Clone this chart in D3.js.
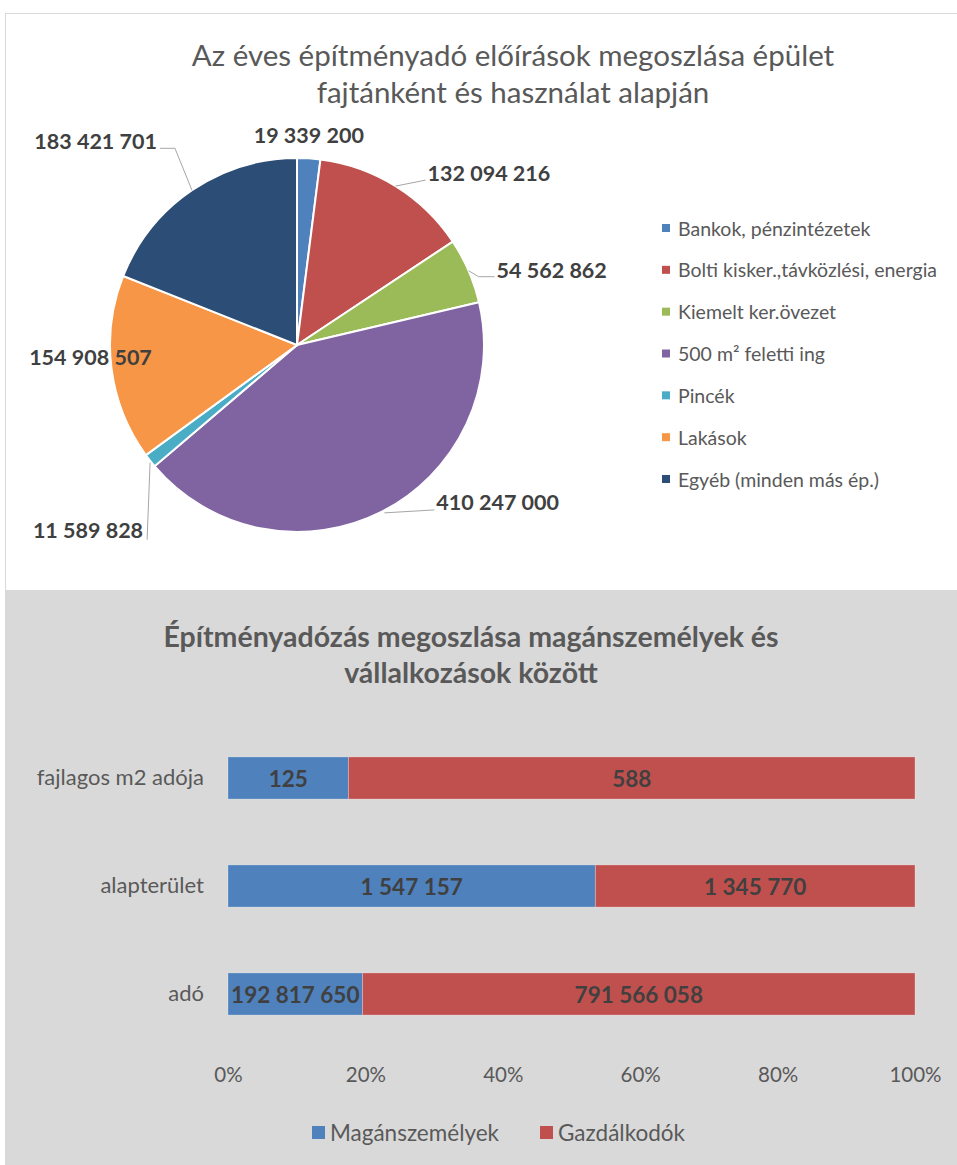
<!DOCTYPE html>
<html>
<head>
<meta charset="utf-8">
<script src="https://cdn.jsdelivr.net/npm/d3@7"></script>
<style>
  body { margin: 0; background: #fff; }
  text { font-family: Lato, "Open Sans", sans-serif; }
</style>
</head>
<body>
<div id="chart"></div>
<script>
// pie data
var pieCategories = ["Bankok, pénzintézetek", "Bolti kisker.,távközlési, energia", "Kiemelt ker.övezet",
  "500 m² feletti ing", "Pincék", "Lakások", "Egyéb (minden más ép.)"];
var pieValues = [19339200, 132094216, 54562862, 410247000, 11589828, 154908507, 183421701];
var pieColors = ["#4f81bd", "#c0504d", "#9bbb59", "#8064a2", "#4bacc6", "#f79646", "#2c4d75"];

// bar data
var barCategories = ["fajlagos m2 adója", "alapterület", "adó"];
var seriesNames = ["Magánszemélyek", "Gazdálkodók"];
var privateValues = [125, 1547157, 192817650];
var businessValues = [588, 1345770, 791566058];
var barColors = ["#4f81bd", "#c0504d"];
var tickLabels = [0, 0.2, 0.4, 0.6, 0.8, 1];

var svgWidth = 957;
var svgHeight = 1165;

var fmt = function(v) { return d3.format(",")(v).replace(/,/g, " "); };

var svg = d3.select("#chart")
  .append("svg")
  .attr("width", svgWidth)
  .attr("height", svgHeight);

// ---- top panel ----
svg.append("rect")
  .attr("x", 5.5).attr("y", 13.5)
  .attr("width", 960).attr("height", 577)
  .attr("fill", "#fff")
  .attr("stroke", "#d9d9d9");

var pieTitle = svg.append("text")
  .attr("x", 513).attr("y", 66)
  .attr("text-anchor", "middle")
  .attr("fill", "#595959")
  .style("font-size", "29.5px");
pieTitle.append("tspan").attr("x", 513).text("Az éves építményadó előírások megoszlása épület");
pieTitle.append("tspan").attr("x", 513).attr("dy", 37).text("fajtánként és használat alapján");

var cx = 297, cy = 345, radius = 187;
var pieGroup = svg.append("g").attr("transform", `translate(${cx}, ${cy})`);

var pie = d3.pie().sort(null).value(d => d.value);
var arc = d3.arc().innerRadius(0).outerRadius(radius);

var pieData = pie(pieValues.map((v, i) => ({ value: v, name: pieCategories[i], color: pieColors[i] })));

pieGroup.selectAll("path")
  .data(pieData)
  .enter()
  .append("path")
  .attr("d", arc)
  .attr("fill", d => d.data.color)
  .attr("stroke", "#fff")
  .attr("stroke-width", 2);

// label placement, relative to the slice's outer edge point
var labelSpecs = [
  { dx: 0, dy: -23, anchor: "middle", leader: null },
  { dx: 32, dy: -13, anchor: "start", leader: [[0, 0], [30, -6]] },
  { dx: 28, dy: -1, anchor: "start", leader: [[0, 0], [10, 6], [26, 6]] },
  { dx: 55, dy: -10, anchor: "start", leader: [[3, 1], [53, -2]] },
  { dx: -7, dy: 69, anchor: "end", leader: [[0, 2], [-3, 79]] },
  { dx: -21, dy: -11, anchor: "middle", leader: null },
  { dx: -35, dy: -49, anchor: "end", leader: [[0, 0], [-17, -42], [-32, -42]] }
];

function edgePoint(d) {
  var a = (d.startAngle + d.endAngle) / 2;
  return [Math.sin(a) * radius, -Math.cos(a) * radius];
}

pieData.forEach(function(d, i) {
  var p = edgePoint(d);
  var s = labelSpecs[i];
  if (s.leader) {
    pieGroup.append("path")
      .attr("d", d3.line()(s.leader.map(q => [p[0] + q[0], p[1] + q[1]])))
      .attr("fill", "none")
      .attr("stroke", "#a6a6a6")
      .attr("stroke-width", 1);
  }
  pieGroup.append("text")
    .attr("x", p[0] + s.dx)
    .attr("y", p[1] + s.dy)
    .attr("text-anchor", s.anchor)
    .attr("dominant-baseline", "central")
    .attr("fill", "#404040")
    .style("font-size", "21.5px")
    .style("font-weight", "bold")
    .text(fmt(d.data.value));
});

// pie legend
var legendY = d3.scalePoint().domain(pieCategories).range([228, 479]);
var pieLegend = svg.append("g").selectAll("g")
  .data(pieCategories)
  .enter()
  .append("g")
  .attr("transform", d => `translate(662, ${legendY(d)})`);
pieLegend.append("rect")
  .attr("x", 0).attr("y", -4)
  .attr("width", 8).attr("height", 8)
  .attr("fill", (d, i) => pieColors[i]);
pieLegend.append("text")
  .attr("x", 16).attr("y", 0)
  .attr("dominant-baseline", "central")
  .attr("fill", "#595959")
  .style("font-size", "19.5px")
  .text(d => d);

// ---- bottom panel ----
svg.append("rect")
  .attr("x", 5).attr("y", 590)
  .attr("width", 952).attr("height", 575)
  .attr("fill", "#d9d9d9");

var barTitle = svg.append("text")
  .attr("x", 471).attr("y", 647)
  .attr("text-anchor", "middle")
  .attr("fill", "#595959")
  .style("font-size", "28.5px")
  .style("font-weight", "bold");
barTitle.append("tspan").attr("x", 471).text("Építményadózás megoszlása magánszemélyek és");
barTitle.append("tspan").attr("x", 471).attr("dy", 36).text("vállalkozások között");

var xScale = d3.scaleLinear().domain([0, 1]).range([228, 915]);
var yScale = d3.scaleBand().domain(barCategories).range([724, 1048]).paddingInner(0.61).paddingOuter(0.305);

var rows = barCategories.map(function(c, i) {
  var total = privateValues[i] + businessValues[i];
  return [
    { cat: c, s: 0, v: privateValues[i], x0: 0, x1: privateValues[i] / total },
    { cat: c, s: 1, v: businessValues[i], x0: privateValues[i] / total, x1: 1 }
  ];
});
var segs = rows.flat();

var barGroup = svg.append("g");
barGroup.selectAll("rect")
  .data(segs)
  .enter()
  .append("rect")
  .attr("x", d => xScale(d.x0))
  .attr("y", d => yScale(d.cat))
  .attr("width", d => xScale(d.x1) - xScale(d.x0))
  .attr("height", yScale.bandwidth())
  .attr("fill", d => barColors[d.s])
  .attr("stroke", "#fff")
  .attr("stroke-opacity", 0.25);

barGroup.selectAll("text")
  .data(segs)
  .enter()
  .append("text")
  .attr("x", d => (xScale(d.x0) + xScale(d.x1)) / 2)
  .attr("y", d => yScale(d.cat) + yScale.bandwidth() / 2)
  .attr("text-anchor", "middle")
  .attr("dominant-baseline", "central")
  .attr("fill", "#404040")
  .style("font-size", "22.5px")
  .style("font-weight", "bold")
  .text(d => fmt(d.v));

// axes
var leftAxis = d3.axisLeft(yScale).tickSize(0).tickPadding(24);
svg.append("g")
  .attr("transform", "translate(228, 0)")
  .call(leftAxis)
  .call(g => g.select(".domain").remove())
  .selectAll("text")
  .attr("fill", "#595959")
  .style("font-size", "22px")
  .style("font-family", "Lato, sans-serif");

var bottomAxis = d3.axisBottom(xScale).tickValues(tickLabels).tickFormat(d3.format(".0%")).tickSize(0).tickPadding(0);
svg.append("g")
  .attr("transform", "translate(0, 1067)")
  .call(bottomAxis)
  .call(g => g.select(".domain").remove())
  .selectAll("text")
  .attr("fill", "#595959")
  .style("font-size", "20.5px")
  .style("font-family", "Lato, sans-serif");

// bar legend
var legendX = [312, 540];
var barLegend = svg.append("g").selectAll("g")
  .data(seriesNames)
  .enter()
  .append("g")
  .attr("transform", (d, i) => `translate(${legendX[i]}, 1132)`);
barLegend.append("rect")
  .attr("x", 0).attr("y", -6)
  .attr("width", 13).attr("height", 13)
  .attr("fill", (d, i) => barColors[i]);
barLegend.append("text")
  .attr("x", 18).attr("y", 0)
  .attr("dominant-baseline", "central")
  .attr("fill", "#595959")
  .style("font-size", "22.5px")
  .text(d => d);
</script>
</body>
</html>
